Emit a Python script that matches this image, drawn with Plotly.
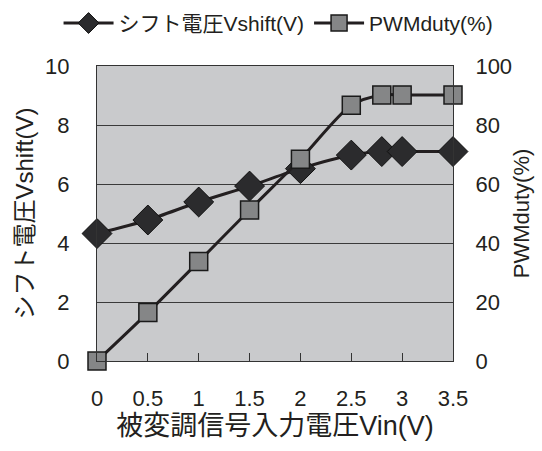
import plotly.graph_objects as go

# Input voltage (V)
vin = [0, 0.5, 1, 1.5, 2, 2.5, 2.8, 3, 3.5]
# Shift voltage (V)
vshift = [4.32, 4.78, 5.39, 5.93, 6.52, 6.98, 7.1, 7.1, 7.1]
# PWM duty (%)
pwm_duty = [0, 16.4, 33.7, 51.2, 68.4, 86.7, 90.2, 90.2, 90.2]

x_ticks = [0, 0.5, 1, 1.5, 2, 2.5, 3, 3.5]
y_left_ticks = [0, 2, 4, 6, 8, 10]
y_right_ticks = [0, 20, 40, 60, 80, 100]

FONT = "Liberation Sans, Arial, Noto Sans CJK JP, sans-serif"
INK = "#231f20"

fig = go.Figure()

fig.add_trace(go.Scatter(
    x=vin, y=vshift, name="シフト電圧Vshift(V)",
    mode="lines+markers",
    line=dict(color=INK, width=3, shape="spline", smoothing=0.8),
    marker=dict(symbol="diamond", size=23, color="#2b2b2d",
                line=dict(color="#111", width=1)),
    cliponaxis=False,
))

fig.add_trace(go.Scatter(
    x=vin, y=pwm_duty, name="PWMduty(%)", yaxis="y2",
    mode="lines+markers",
    line=dict(color=INK, width=3, shape="spline", smoothing=0.8),
    marker=dict(symbol="square", size=18, color="#858687",
                line=dict(color="#1a1a1a", width=1.5)),
    cliponaxis=False,
))

fig.update_layout(
    width=542, height=451,
    margin=dict(l=97, r=89, t=66, b=90, autoexpand=False),
    paper_bgcolor="white",
    plot_bgcolor="#c9cacc",
    font=dict(family=FONT, size=22, color="#231f20"),
    showlegend=True,
    legend=dict(
        orientation="h", x=-0.108, xanchor="left",
        y=1.214, yanchor="top",
        font=dict(size=21), itemwidth=50,
        bgcolor="rgba(0,0,0,0)", traceorder="normal",
    ),
    xaxis=dict(
        range=[0, 3.5], tickvals=x_ticks, ticktext=[str(v) for v in x_ticks],
        ticks="inside", ticklen=8, tickcolor="#333", tickwidth=1,
        showgrid=False, zeroline=False,
        showline=True, mirror=True, linecolor="#333", linewidth=1,
        ticklabelstandoff=18,
        title=dict(text="被変調信号入力電圧Vin(V)", font=dict(size=27), standoff=4),
    ),
    yaxis=dict(
        range=[0, 10], tickvals=y_left_ticks,
        showgrid=True, gridcolor="#3a3a3a", gridwidth=1,
        zeroline=False, ticks="",
        showline=True, linecolor="#333", linewidth=1,
        ticklabelstandoff=22,
        title=dict(text="シフト電圧Vshift(V)", font=dict(size=24), standoff=4),
    ),
    yaxis2=dict(
        range=[0, 100], tickvals=y_right_ticks, overlaying="y", side="right",
        showgrid=False, zeroline=False, ticks="",
        showline=True, linecolor="#333", linewidth=1,
        ticklabelstandoff=17,
        title=dict(text="PWMduty(%)", font=dict(size=22), standoff=2),
    ),
)

fig.write_html("out.html")
